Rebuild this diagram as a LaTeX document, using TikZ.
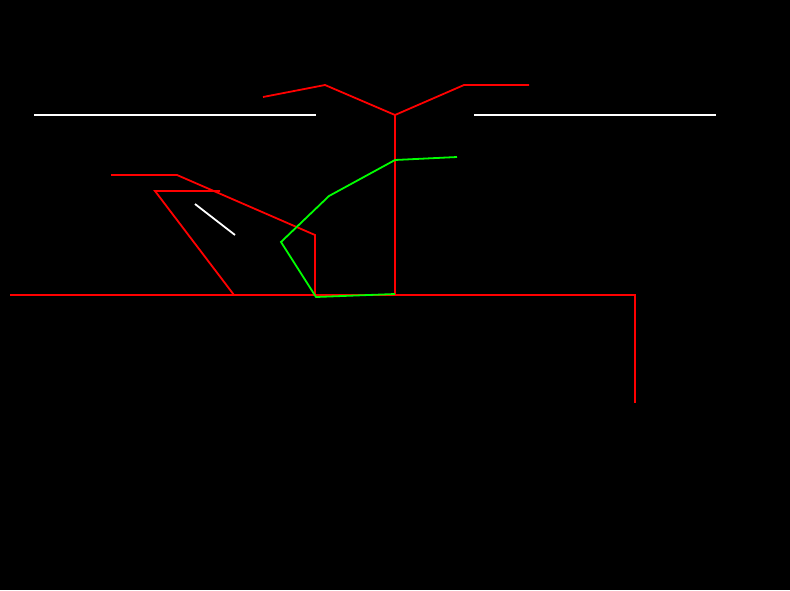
\documentclass[tikz,border=0pt]{standalone}
\definecolor{FrameRed}{HTML}{FF0000}
\definecolor{PathGreen}{HTML}{00FF00}

\begin{document}
\begin{tikzpicture}[x=1pt,y=-1pt,line width=1.8pt]
  \fill[black] (0,0) rectangle (790,590);
  \useasboundingbox (0,0) rectangle (790,590);
  % white rails
  \draw[white] (34,115) -- (316,115);
  \draw[white] (474,115) -- (716,115);
  \draw[white] (195,204) -- (235,235);
  % red frame
  \draw[FrameRed] (263,97) -- (325,85) -- (395,115) -- (464,85) -- (529,85);
  \draw[FrameRed] (395,115) -- (395,295);
  \draw[FrameRed] (111,175) -- (177,175) -- (315,235) -- (315,295);
  \draw[FrameRed] (220,191) -- (155,191) -- (234,295);
  \draw[FrameRed] (10,295) -- (635,295) -- (635,403);
  % green path
  \draw[PathGreen] (457,157) -- (395,160) -- (329,196) -- (281,242) -- (316,297) -- (395,294);
\end{tikzpicture}
\end{document}
